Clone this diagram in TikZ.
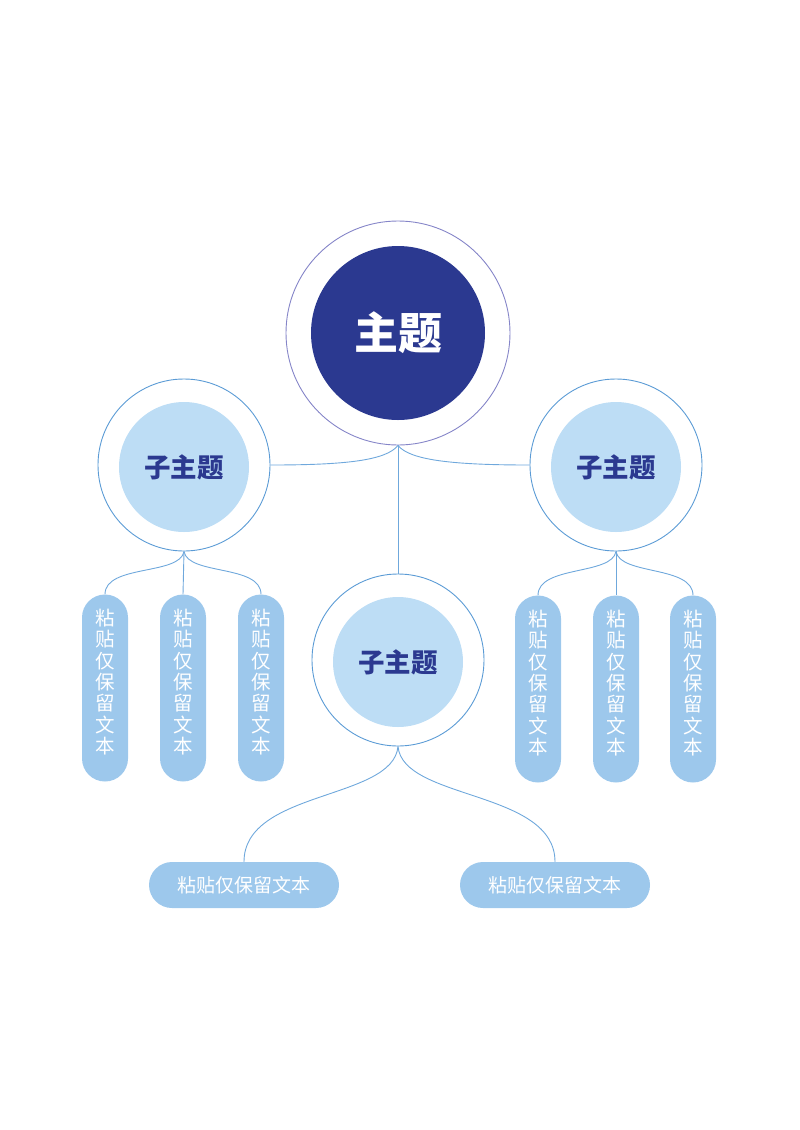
\documentclass[tikz,border=0pt]{standalone}
\usepackage{fontspec}
\setmainfont{Noto Sans CJK SC}
\definecolor{navy}{HTML}{2B3990}
\definecolor{ringpurple}{HTML}{8585C8}
\definecolor{ringblue}{HTML}{5B9BD5}
\definecolor{lightfill}{HTML}{BDDDF5}
\definecolor{pillfill}{HTML}{9DC8EC}
\definecolor{linkblue}{HTML}{6FA8DC}
\begin{document}
\begin{tikzpicture}[x=1pt,y=-1pt,
  mainring/.style={circle,draw=ringpurple,line width=0.9pt,minimum size=224pt,inner sep=0pt},
  maincore/.style={circle,fill=navy,minimum size=174pt,inner sep=0pt,text=white,font=\fontsize{44}{48}\selectfont\bfseries},
  subring/.style={circle,draw=ringblue,line width=0.9pt,minimum size=172pt,inner sep=0pt},
  subcore/.style={circle,fill=lightfill,minimum size=130pt,inner sep=0pt,text=navy,font=\fontsize{26.5}{30}\selectfont\bfseries},
  vpill/.style={rectangle,rounded corners=23pt,fill=pillfill,minimum width=46pt,minimum height=187pt,inner sep=0pt},
  vtext/.style={inner sep=0pt,text=white,align=center,font=\fontsize{19.5}{21.3}\selectfont},
  hpill/.style={rectangle,rounded corners=23pt,fill=pillfill,minimum width=190pt,minimum height=46pt,inner sep=0pt,text=white,font=\fontsize{19}{22}\selectfont},
  link/.style={draw=linkblue,line width=0.9pt}
]
\useasboundingbox (0,0) rectangle (800,1130);
% main topic
\node[mainring] (m) at (398,333) {};
\node[maincore] (mc) at (398,333) {主题};
% subtopics
\node[subring] (L) at (184,465) {};
\node[subcore] (Lc) at (184,467) {子主题};
\node[subring] (R) at (616,465) {};
\node[subcore] (Rc) at (616,467) {子主题};
\node[subring] (C) at (398,660) {};
\node[subcore] (Cc) at (398,662) {子主题};
% vertical pills
\node[vpill] (p1) at (105,688) {};
\node[vpill] (p2) at (183,688) {};
\node[vpill] (p3) at (261,688) {};
\node[vpill] (q1) at (538,689) {};
\node[vpill] (q2) at (616,689) {};
\node[vpill] (q3) at (693,689) {};
\node[vtext] (p1t) at (105,682) {粘\\贴\\仅\\保\\留\\文\\本};
\node[vtext] (p2t) at (183,682) {粘\\贴\\仅\\保\\留\\文\\本};
\node[vtext] (p3t) at (261,682) {粘\\贴\\仅\\保\\留\\文\\本};
\node[vtext] (q1t) at (538,683) {粘\\贴\\仅\\保\\留\\文\\本};
\node[vtext] (q2t) at (616,683) {粘\\贴\\仅\\保\\留\\文\\本};
\node[vtext] (q3t) at (693,683) {粘\\贴\\仅\\保\\留\\文\\本};
% horizontal pills
\node[hpill] (b1) at (244,885) {粘贴仅保留文本};
\node[hpill] (b2) at (555,885) {粘贴仅保留文本};
% main connectors
\draw[link] (m.south) .. controls +(-12,15) and +(75,0) .. (L.east);
\draw[link] (m.south) .. controls +(12,15) and +(-75,0) .. (R.west);
\draw[link] (m.south) -- (C.north);
% left group
\draw[link] (L.south) .. controls +(-4,24) and +(0,-30) .. (p1.north);
\draw[link] (L.south) -- (p2.north);
\draw[link] (L.south) .. controls +(4,24) and +(0,-30) .. (p3.north);
% right group
\draw[link] (R.south) .. controls +(-4,24) and +(0,-30) .. (q1.north);
\draw[link] (R.south) -- (q2.north);
\draw[link] (R.south) .. controls +(4,24) and +(0,-30) .. (q3.north);
% centre group
\draw[link] (C.south) .. controls +(-5,54) and +(0,-72) .. (b1.north);
\draw[link] (C.south) .. controls +(5,54) and +(0,-72) .. (b2.north);
\end{tikzpicture}
\end{document}
